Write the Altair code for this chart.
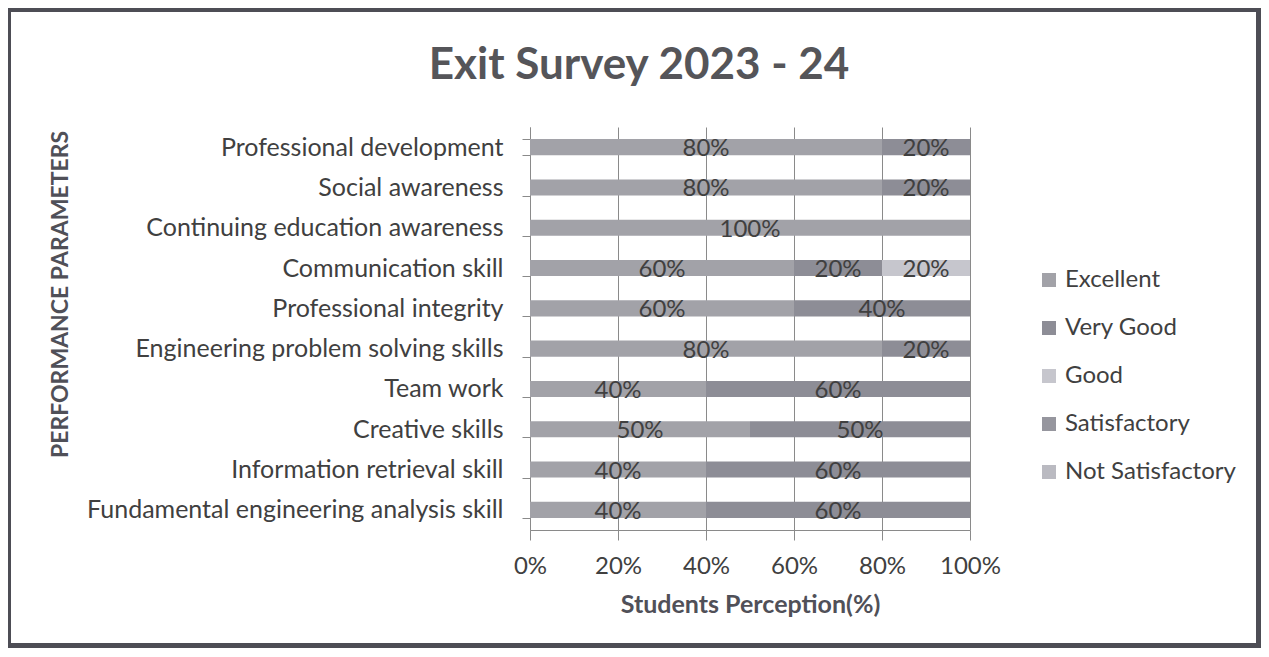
import altair as alt
import pandas as pd

params = [
    "Professional development",
    "Social awareness",
    "Continuing education awareness",
    "Communication skill",
    "Professional integrity",
    "Engineering problem solving skills",
    "Team work",
    "Creative skills",
    "Information retrieval skill",
    "Fundamental engineering analysis skill",
]
levels = ["Excellent", "Very Good", "Good", "Satisfactory", "Not Satisfactory"]
excellent = [80, 80, 100, 60, 60, 80, 40, 50, 40, 40]
very_good = [20, 20, 0, 20, 40, 20, 60, 50, 60, 60]
good = [0, 0, 0, 20, 0, 0, 0, 0, 0, 0]
satisfactory = [0, 0, 0, 0, 0, 0, 0, 0, 0, 0]
not_satisfactory = [0, 0, 0, 0, 0, 0, 0, 0, 0, 0]
colors = ["#a2a2a8", "#8d8d96", "#c6c6cd", "#96969e", "#babac1"]
x_ticks = [0, 20, 40, 60, 80, 100]

series = [excellent, very_good, good, satisfactory, not_satisfactory]
rows = []
for r, (lvl, vals) in enumerate(zip(levels, series)):
    for p, v in zip(params, vals):
        rows.append({"param": p, "level": lvl, "rank": r, "pct": v})
df = pd.DataFrame(rows)

FONT = "Lato"
TXT = "#404040"

base = alt.Chart(df).transform_filter("datum.pct > 0").transform_stack(
    stack="pct", groupby=["param"], sort=[alt.SortField("rank", order="ascending")], as_=["x0", "x1"]
).transform_calculate(mid="(datum.x0 + datum.x1) / 2", lbl="datum.pct + '%'")

y_enc = alt.Y(
    "param:N",
    sort=params,
    scale=alt.Scale(paddingInner=0.6, paddingOuter=0.3),
    axis=alt.Axis(
        title="PERFORMANCE PARAMETERS",
        titleFont=FONT, titleFontSize=23, titleFontWeight="bold", titleColor="#505058",
        titleX=-458, titleY=167, titleAngle=-90,
        labelFont=FONT, labelFontSize=25, labelColor=TXT, labelPadding=19, labelLimit=600,
        tickBand="extent", tickSize=8, tickColor="#8a8a8a", domainColor="#8a8a8a",
        grid=False,
    ),
)

bars = base.mark_bar().encode(
    x=alt.X(
        "x0:Q",
        scale=alt.Scale(domain=[0, 100]),
        axis=alt.Axis(
            values=x_ticks, labelExpr="datum.value + '%'", labelFlush=False,
            title="Students Perception(%)",
            titleFont=FONT, titleFontSize=25, titleFontWeight="bold", titleColor="#505058",
            titleBaseline="alphabetic", titleY=82,
            labelFont=FONT, labelFontSize=24, labelColor=TXT, labelPadding=14,
            tickSize=10, tickColor="#8a8a8a", domainColor="#8a8a8a",
            grid=True, gridColor="#8a8a8a", gridOpacity=1,
        ),
    ),
    x2="x1:Q",
    y=y_enc,
    color=alt.Color(
        "level:N",
        scale=alt.Scale(domain=levels, range=colors),
        legend=alt.Legend(
            title=None, orient="none", legendX=507, legendY=141,
            symbolType="square", symbolSize=196, symbolStrokeWidth=0, symbolOpacity=1,
            labelFont=FONT, labelFontSize=24, labelColor=TXT, labelOffset=4,
            labelLimit=400, rowPadding=24,
        ),
    ),
    order=alt.Order("rank:Q"),
)

labels = base.mark_text(font=FONT, fontSize=24, color=TXT, baseline="middle", dy=2).encode(
    x=alt.X("mid:Q"),
    y=alt.Y("param:N", sort=params),
    text="lbl:N",
)

frame = alt.Chart(pd.DataFrame({"k": [0]})).mark_rect(
    fill="transparent", stroke="#4d4d55", strokeWidth=6
).encode(
    x=alt.value(-522), x2=alt.value(729), y=alt.value(-118), y2=alt.value(519)
)

chart = alt.layer(bars, labels, frame).properties(
    width=440,
    height=403,
    title=alt.TitleParams(
        "Exit Survey 2023 - 24", font=FONT, fontSize=44, fontWeight="bold", color="#555559",
        anchor="middle", frame="group", dx=-111, offset=-82,
    ),
    autosize=alt.AutoSizeParams(type="none"),
    padding={"left": 522, "top": 119, "right": 291, "bottom": 118},
).configure(background="white").configure_view(stroke="transparent")

chart.save("out.html", embed_options={"renderer": "svg", "actions": False})
